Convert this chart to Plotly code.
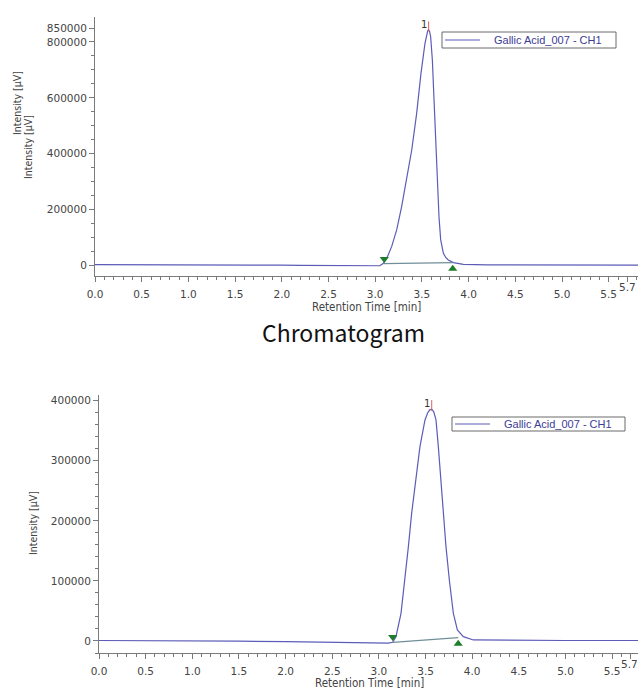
import plotly.graph_objects as go

W, H = 638, 690

# ---------------- data ----------------
series_name = "Gallic Acid_007 - CH1"

# top chromatogram (retention time [min], intensity [uV])
top_time = [0.0, 0.5, 1.0, 1.5, 1.8, 2.0, 2.2, 2.5, 2.8, 3.0, 3.05, 3.087, 3.13, 3.176,
            3.230, 3.283, 3.337, 3.391, 3.444, 3.490, 3.533, 3.550, 3.562, 3.572, 3.582, 3.594,
            3.612, 3.630, 3.648, 3.666, 3.683, 3.701, 3.716, 3.730, 3.755, 3.783, 3.837, 3.944,
            4.2, 4.5, 5.0, 5.5, 5.82]
top_int = [2500, 2500, 2000, 2000, 1500, 500, -500, -1500, -2500, -2500, -1500, 7200, 30000, 66900,
           126600, 210000, 305700, 413100, 544500, 687700, 795200, 826000, 840000, 844000, 838000, 818000,
           735500, 592200, 449000, 305700, 174000, 92000, 60000, 43000, 28000, 19100, 9600, 3600,
           1500, 1000, 1000, 1000, 1000]
top_peak_bounds_t = [3.087, 3.83]
top_peak_bounds_v = [6000, 9500]
top_apex = (3.572, 844000)

# bottom chromatogram
bot_time = [0.0, 0.5, 1.0, 1.5, 2.0, 2.5, 2.8, 3.0, 3.1, 3.148, 3.183, 3.237, 3.280, 3.316,
            3.351, 3.394, 3.440, 3.494, 3.522, 3.545, 3.566, 3.588, 3.612, 3.637, 3.662, 3.691,
            3.719, 3.755, 3.798, 3.841, 3.905, 4.012, 4.5, 5.0, 5.5, 5.8]
bot_int = [800, 800, 500, -300, -1200, -2300, -3300, -3900, -3600, -2200, 7200, 46000, 101500, 157000,
           212500, 268000, 323500, 368000, 379500, 384800, 386000, 381500, 368000, 323500, 268000, 212500,
           157000, 101500, 46000, 18300, 7200, 1700, 800, 800, 800, 800]
bot_peak_bounds_t = [3.148, 3.85]
bot_peak_bounds_v = [-2200, 5500]
bot_apex = (3.566, 386000)

x_tick_vals = [0, 0.5, 1.0, 1.5, 2.0, 2.5, 3.0, 3.5, 4.0, 4.5, 5.0, 5.5, 5.7]
x_tick_text = ["0.0", "0.5", "1.0", "1.5", "2.0", "2.5", "3.0", "3.5", "4.0", "4.5", "5.0", "5.5", ""]
top_y_ticks = [0, 200000, 400000, 600000, 800000, 850000]
bot_y_ticks = [0, 100000, 200000, 300000, 400000]

# ---------------- style ----------------
LINE = "#5c5cb8"
BASE = "#6f8f98"
GREEN = "#1d7d2a"
AX = "#7a7a7a"
TXT = "#444444"
TICKFONT = dict(family="DejaVu Sans", size=10.5, color=TXT)


def px_x(p):
    return p / W


def px_y(p):
    return 1 - p / H


fig = go.Figure()

for (t, v, bt, bv, xa, ya) in [
    (top_time, top_int, top_peak_bounds_t, top_peak_bounds_v, "x", "y"),
    (bot_time, bot_int, bot_peak_bounds_t, bot_peak_bounds_v, "x2", "y2"),
]:
    fig.add_trace(go.Scatter(x=t, y=v, mode="lines", line=dict(color=LINE, width=1.2),
                             name=series_name, showlegend=False, xaxis=xa, yaxis=ya))
    fig.add_trace(go.Scatter(x=bt, y=bv, mode="lines", line=dict(color=BASE, width=1.2),
                             showlegend=False, xaxis=xa, yaxis=ya))

# markers (peak start: down triangle above, end: up triangle below)
fig.add_trace(go.Scatter(x=[top_peak_bounds_t[0] + 0.01], y=[top_peak_bounds_v[0] + 17000], mode="markers",
                         marker=dict(symbol="triangle-down", size=8, color=GREEN),
                         showlegend=False, xaxis="x", yaxis="y"))
fig.add_trace(go.Scatter(x=[top_peak_bounds_t[1]], y=[top_peak_bounds_v[1] - 22000], mode="markers",
                         marker=dict(symbol="triangle-up", size=8, color=GREEN),
                         showlegend=False, xaxis="x", yaxis="y"))
fig.add_trace(go.Scatter(x=[bot_peak_bounds_t[0]], y=[bot_peak_bounds_v[0] + 9000], mode="markers",
                         marker=dict(symbol="triangle-down", size=8, color=GREEN),
                         showlegend=False, xaxis="x2", yaxis="y2"))
fig.add_trace(go.Scatter(x=[bot_peak_bounds_t[1]], y=[bot_peak_bounds_v[1] - 10000], mode="markers",
                         marker=dict(symbol="triangle-up", size=8, color=GREEN),
                         showlegend=False, xaxis="x2", yaxis="y2"))

shapes = []
annotations = []

# apex markers (red line + "1")
for apex, xr, yr, dv in [(top_apex, "x", "y", 30000), (bot_apex, "x2", "y2", 15000)]:
    shapes.append(dict(type="line", xref=xr, yref=yr, x0=apex[0], x1=apex[0],
                       y0=apex[1] - dv * 0.2, y1=apex[1] + dv, line=dict(color="#e06060", width=1)))
    annotations.append(dict(xref=xr, yref=yr, x=apex[0], y=apex[1] + dv * 0.6, text="1",
                            showarrow=False, xanchor="right", yanchor="middle", xshift=0,
                            font=dict(family="DejaVu Sans", size=10, color="#333333")))

# legends drawn as boxes
for (x0, x1, y0, y1, lx1, tx) in [(442, 616, 32, 48, 480, 492), (452, 625, 417, 431, 490, 502)]:
    shapes.append(dict(type="rect", xref="paper", yref="paper", x0=px_x(x0), x1=px_x(x1),
                       y0=px_y(y1), y1=px_y(y0), line=dict(color="#6a6a6a", width=1),
                       fillcolor="white"))
    ym = (y0 + y1) / 2
    shapes.append(dict(type="line", xref="paper", yref="paper", x0=px_x(x0 + 3), x1=px_x(lx1),
                       y0=px_y(ym), y1=px_y(ym), line=dict(color=LINE, width=1.2)))
    annotations.append(dict(xref="paper", yref="paper", x=px_x(tx), y=px_y(ym), text=series_name,
                            showarrow=False, xanchor="left", yanchor="middle",
                            font=dict(family="Liberation Sans", size=11, color="#3c3c96")))

# axis titles
ytitle_font = dict(family="DejaVu Sans Condensed", size=10.5, color=TXT)
for (x, y) in [(17, 103), (28, 147), (33, 523)]:
    annotations.append(dict(xref="paper", yref="paper", x=px_x(x), y=px_y(y), text="Intensity [µV]",
                            textangle=-90, showarrow=False, xanchor="center", yanchor="middle",
                            font=ytitle_font))
for (x, y) in [(366, 307), (369, 683)]:
    annotations.append(dict(xref="paper", yref="paper", x=px_x(x), y=px_y(y), text="Retention Time [min]",
                            showarrow=False, xanchor="center", yanchor="middle",
                            font=dict(family="DejaVu Sans Condensed", size=11.5, color=TXT)))
# raised 5.7 tick labels
for (x, y) in [(627, 287), (629, 664)]:
    annotations.append(dict(xref="paper", yref="paper", x=px_x(x), y=px_y(y), text="5.7",
                            showarrow=False, xanchor="center", yanchor="middle", font=TICKFONT))

annotations.append(dict(xref="paper", yref="paper", x=px_x(343), y=px_y(332), text="Chromatogram",
                        showarrow=False, xanchor="center", yanchor="middle",
                        font=dict(family="Noto Sans CJK JP", size=23, color="#111111")))

xcommon = dict(showline=True, linecolor=AX, linewidth=1, ticks="outside", ticklen=5, tickcolor=AX,
               tickmode="array", tickvals=x_tick_vals, ticktext=x_tick_text, tickfont=TICKFONT,
               showgrid=False, zeroline=False, ticklabelstandoff=3, automargin=False,
               minor=dict(ticks="outside", ticklen=3, dtick=0.1, tick0=0, tickcolor=AX, showgrid=False))
ycommon = dict(showline=True, linecolor=AX, linewidth=1, ticks="outside", ticklen=5, tickcolor=AX,
               tickmode="array", tickfont=TICKFONT, showgrid=False, zeroline=False, automargin=False)

fig.update_layout(
    template="none",
    width=W, height=H, margin=dict(l=0, r=0, t=0, b=0, pad=0),
    paper_bgcolor="white", plot_bgcolor="white", showlegend=False,
    xaxis=dict(xcommon, domain=[px_x(95), 1.0], range=[0, 543 / 93.4], anchor="y"),
    yaxis=dict(ycommon, domain=[px_y(276), px_y(17)], range=[-38300, 889500], anchor="x",
               tickvals=top_y_ticks, ticktext=[str(v) for v in top_y_ticks],
               minor=dict(ticks="outside", ticklen=3, dtick=50000, tick0=0, tickcolor=AX)),
    xaxis2=dict(xcommon, domain=[px_x(99), 1.0], range=[0, 539 / 93.3], anchor="y2"),
    yaxis2=dict(ycommon, domain=[px_y(653), px_y(395)], range=[-20000, 409500], anchor="x2",
                tickvals=bot_y_ticks, ticktext=[str(v) for v in bot_y_ticks],
                minor=dict(ticks="outside", ticklen=3, dtick=20000, tick0=0, tickcolor=AX)),
    shapes=shapes, annotations=annotations,
)

fig.write_html(
    "out.html",
    config={"displayModeBar": False},
    post_script="document.body.style.margin='0px';document.body.style.overflow='hidden';",
)
